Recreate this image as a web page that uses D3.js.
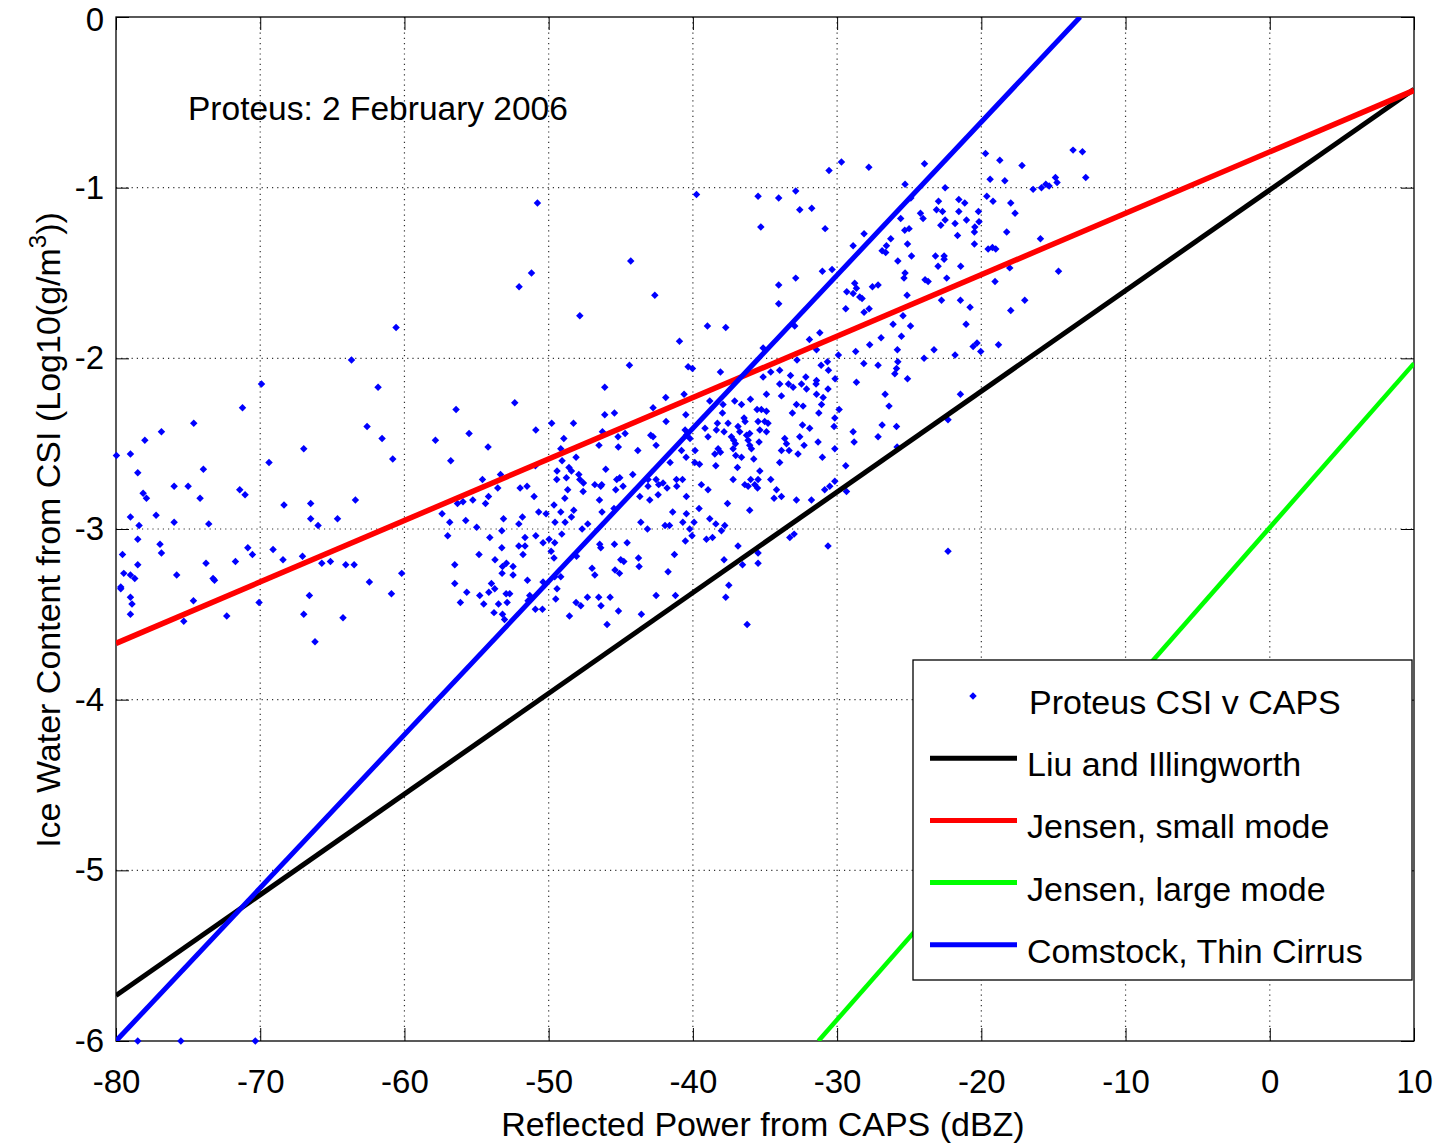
<!DOCTYPE html>
<html><head><meta charset="utf-8">
<script src="https://cdn.jsdelivr.net/npm/d3@7"></script>
<style>
body{margin:0;background:#fff;}
svg{display:block;}
text{font-family:"Liberation Sans",Arial,Helvetica,sans-serif;fill:#000;}
</style>
</head><body>
<svg id="chart" width="1439" height="1143"></svg>
<script>
// ---------------- DATA ----------------
const xTicks = [-80,-70,-60,-50,-40,-30,-20,-10,0,10];
const yTicks = [-6,-5,-4,-3,-2,-1,0];
const titleText = "Proteus: 2 February 2006";
const xLabel = "Reflected Power from CAPS (dBZ)";
const legendLabels = ["Proteus CSI v CAPS","Liu and Illingworth","Jensen, small mode","Jensen, large mode","Comstock, Thin Cirrus"];

// fitted relations (end points)
const liuZ = [-80, 10],      liuLog = [-5.733, -0.423];
const jenSmallZ = [-80, 10], jenSmallLog = [-3.67, -0.43];
const jenLargeZ = [-31.3, 10], jenLargeLog = [-6.0, -2.03];
const comstockZ = [-80, -13.15], comstockLog = [-6.0, 0.0];

// observations: reflectivity (dBZ) and log10 IWC
const obsZ = [
-69.91,-71.23,-74.61,-76.85,-78.00,-79.97,-79.00,-66.98,-69.39,-78.49,-73.94,-75.97,-75.00,-78.12,-77.89,-74.17,-71.42,-71.05,-68.35,-66.50,
-63.40,-77.22,-79.00,-75.97,-78.40,-73.57,-66.50,-65.99,-64.64,-78.49,-76.95,-76.85,-79.55,-70.86,-70.54,-69.11,-67.07,-68.42,-65.73,-65.13,
-64.07,-63.49,-78.49,-73.76,-71.72,-79.46,-79.00,-78.70,-75.79,-73.27,-73.17,-79.67,-79.67,-79.00,-78.89,-79.00,-74.63,-70.08,-66.59,-75.30,
-72.32,-66.98,-64.26,-66.20,-78.49,-75.50,-70.34,
-50.78,-51.19,-52.05,-60.58,-63.67,-61.83,-62.59,-56.42,-52.35,-55.52,-50.89,-61.55,-57.85,
-54.20,-60.81,-56.79,-54.59,-53.34,-53.53,-51.98,-51.50,-51.01,-50.92,-55.26,-54.38,-54.17,-56.32,-55.94,-57.39,-56.86,-55.75,-57.00,-54.99,
-53.13,-53.25,-51.82,-52.07,-50.69,-54.08,-51.64,-50.89,-52.07,-51.64,-53.25,-51.78,-54.83,-53.72,-52.93,-52.47,-53.20,-53.23,-56.51,-60.19,
-62.43,-52.47,-51.47,-56.51,-53.97,-53.74,-54.15,-54.78,-55.68,-60.90,-52.95,-52.70,-56.12,-54.50,-53.48,-52.88,-51.31,-51.43,-50.92,-53.79,
-53.20,-53.06,
-46.11,-41.88,-40.61,-46.11,-45.44,-42.76,-49.79,-48.28,-41.86,-40.49,-48.95,-46.27,-45.19,-44.70,-42.92,-42.76,-40.54,-40.45,-40.20,-46.51,
-45.17,-42.55,-49.16,-49.07,-48.10,-43.82,-40.79,-39.85,-40.47,-49.42,-48.59,-48.42,-46.04,-47.91,-44.17,-41.58,-39.87,-39.54,-48.77,-49.44,
-47.84,-47.59,-46.80,-46.32,-45.28,-45.07,-43.11,-42.55,-41.14,-40.72,-42.37,-42.07,-41.79,-43.11,-41.12,-47.61,-46.39,-45.35,-44.84,-48.68,
-48.88,-46.48,-43.68,-42.99,-42.41,-40.45,-49.63,-50.18,-49.16,-48.26,-46.30,-45.47,-41.40,-40.45,-39.57,-49.56,-48.86,-48.42,-47.68,-47.29,
-43.61,-43.15,-41.93,-41.62,-40.70,-39.92,-40.22,-49.97,-49.58,-49.09,-50.39,-40.06,-46.46,-45.44,-44.56,-40.52,-49.83,-49.63,-48.07,-46.39,
-41.28,-45.00,-44.79,-43.77,-43.73,-46.99,-46.80,-45.40,-45.09,-41.72,-49.58,-49.16,-50.39,-49.42,-49.51,-50.43,-48.10,-47.77,-47.31,-46.53,
-46.37,-45.74,-45.16,-43.57,-42.55,-41.21,-48.56,-45.95,
-33.98,-33.37,-33.05,-32.47,-31.46,-28.66,-34.90,-33.86,-32.12,-31.43,-30.97,-30.63,-36.01,-37.10,-36.63,-37.91,-38.83,-32.82,-32.36,-31.08,
-29.86,-35.55,-35.25,-34.90,-37.95,-33.10,-31.27,-30.16,-38.30,-37.56,-36.45,-36.38,-35.48,-35.02,-34.79,-39.16,-38.37,-37.84,-36.87,-36.75,
-36.06,-35.36,-34.90,-32.40,-31.90,-30.21,-28.89,-27.16,-38.95,-37.33,-37.17,-36.28,-36.17,-33.63,-32.59,-31.32,-35.41,-28.82,-37.05,-36.06,
-33.51,-32.29,-38.25,-38.09,-37.21,-35.94,-33.86,-33.33,-32.71,-30.16,-38.48,-37.03,-36.63,-35.78,-33.98,-31.02,-29.40,-38.41,-36.91,-35.36,
-35.48,-35.99,-34.60,-37.21,-36.40,-36.17,-35.71,-35.52,-34.20,-39.41,-38.95,-34.37,-33.86,-32.82,-31.78,-30.86,-30.51,-30.16,-29.35,-37.60,
-36.06,-38.83,-38.41,-37.79,-38.02,-39.06,-38.64,-33.28,-32.98,-30.63,-36.87,-37.84,-36.56,-35.48,-35.48,-37.51,-37.72,-36.24,
-29.70,-30.56,-39.75,-35.48,-34.05,-32.87,-32.59,-31.76,-35.29,-30.83,-44.31,-42.64,-34.05,-32.87,-34.05,-31.02,-30.35,-29.33,-29.40,-38.99,
-37.72,-40.93,-32.94,-35.13,-31.20,-31.92,-31.43,-29.91,-44.40,-40.33,-40.03,-38.09,-35.13,-34.60,-33.98,-32.78,-33.23,-32.17,-31.43,-31.11,
-30.67,-30.60,-30.14,-47.84,
-27.80,-23.94,-19.71,-18.72,-17.18,-13.64,-12.99,-12.76,-25.29,-22.51,-19.39,-18.37,-16.41,-15.83,-15.53,-15.30,-14.86,-14.75,-24.89,-22.97,
-21.56,-21.15,-19.62,-19.19,-17.96,-17.66,-24.22,-24.04,-23.11,-22.69,-21.56,-20.20,-25.59,-22.51,-22.81,-21.82,-21.03,-20.45,-20.16,-25.31,
-25.01,-20.48,-18.24,-28.13,-26.28,-21.65,-15.90,-28.89,-26.58,-25.12,-20.48,-19.53,-19.23,-19.00,-26.88,-26.63,-23.18,-22.58,-22.58,-24.84,
-25.79,-23.00,-21.43,-18.03,-25.29,-25.36,-22.40,-14.65,-23.90,-23.69,-19.05,-28.78,-28.89,-28.66,-27.55,-27.16,-28.43,-28.27,-25.15,-28.13,
-27.78,-25.43,-22.76,-21.45,-20.78,-17.96,-16.99,-26.12,-24.91,-21.06,-26.95,-25.54,-27.74,-28.71,-25.82,-23.28,-20.57,-20.30,-20.04,-18.81,
-21.82,-23.97,-28.15,-27.16,-25.79,-25.88,
-26.00,-25.12,-26.67,-26.40,-21.45,-26.88,-25.88,-25.84,-22.31,-22.31
];
const obsLog = [
-2.15,-2.29,-2.38,-2.43,-2.48,-2.57,-2.56,-2.53,-2.61,-2.67,-2.65,-2.75,-2.75,-2.79,-2.82,-2.82,-2.77,-2.80,-2.86,-2.85,
-2.83,-2.92,-2.93,-2.96,-2.98,-2.97,-2.94,-2.98,-2.94,-3.06,-3.09,-3.14,-3.15,-3.11,-3.15,-3.12,-3.16,-3.18,-3.20,-3.19,
-3.21,-3.21,-3.21,-3.20,-3.19,-3.26,-3.27,-3.29,-3.27,-3.29,-3.30,-3.34,-3.35,-3.40,-3.44,-3.50,-3.42,-3.43,-3.39,-3.54,
-3.51,-3.50,-3.52,-3.66,-6.00,-6.00,-6.00,
-1.09,-1.50,-1.58,-1.82,-2.01,-2.17,-2.40,-2.30,-2.26,-2.44,-2.42,-2.47,-2.48,
-2.52,-2.59,-2.60,-2.71,-2.68,-2.76,-2.76,-2.75,-2.81,-2.63,-2.83,-2.85,-2.81,-2.85,-2.84,-2.91,-2.96,-2.95,-3.04,-2.99,
-2.94,-3.01,-2.93,-2.97,-2.90,-3.05,-3.05,-3.04,-3.10,-3.10,-3.11,-3.15,-3.15,-3.18,-3.20,-3.22,-3.22,-3.26,-3.21,-3.26,
-3.31,-3.27,-3.30,-3.32,-3.32,-3.35,-3.37,-3.39,-3.37,-3.38,-3.38,-3.38,-3.43,-3.44,-3.44,-3.43,-3.39,-3.42,-3.47,-3.49,
-3.50,-3.53,
-2.17,-2.23,-2.21,-2.33,-2.32,-2.29,-2.38,-2.38,-2.37,-2.33,-2.47,-2.43,-2.46,-2.44,-2.45,-2.46,-2.42,-2.45,-2.47,-2.51,
-2.52,-2.51,-2.53,-2.60,-2.58,-2.54,-2.54,-2.54,-2.58,-2.66,-2.64,-2.66,-2.65,-2.68,-2.68,-2.61,-2.61,-2.62,-2.70,-2.71,
-2.71,-2.73,-2.74,-2.74,-2.71,-2.70,-2.71,-2.71,-2.71,-2.71,-2.74,-2.73,-2.76,-2.75,-2.75,-2.78,-2.75,-2.77,-2.75,-2.77,
-2.82,-2.83,-2.81,-2.83,-2.80,-2.81,-2.86,-2.91,-2.90,-2.89,-2.90,-2.88,-2.90,-2.91,-2.88,-2.96,-2.96,-2.93,-3.00,-2.97,
-2.96,-3.00,-2.98,-2.98,-2.96,-2.96,-3.00,-3.06,-3.08,-3.03,-3.08,-3.04,-3.09,-3.09,-3.08,-3.07,-3.13,-3.17,-3.16,-3.11,
-3.15,-3.18,-3.19,-3.17,-3.22,-3.23,-3.27,-3.24,-3.26,-3.25,-3.28,-3.28,-3.31,-3.35,-3.41,-3.47,-3.43,-3.45,-3.40,-3.40,
-3.45,-3.40,-3.48,-3.50,-3.39,-3.39,-3.51,-3.56,
-2.15,-2.15,-2.17,-2.15,-2.15,-2.14,-2.21,-2.22,-2.18,-2.21,-2.23,-2.18,-2.24,-2.25,-2.27,-2.27,-2.25,-2.27,-2.28,-2.27,
-2.30,-2.30,-2.30,-2.31,-2.32,-2.32,-2.32,-2.35,-2.38,-2.38,-2.35,-2.37,-2.37,-2.37,-2.38,-2.41,-2.42,-2.43,-2.40,-2.43,
-2.44,-2.42,-2.43,-2.39,-2.41,-2.40,-2.43,-2.46,-2.46,-2.46,-2.48,-2.45,-2.48,-2.47,-2.46,-2.49,-2.49,-2.49,-2.50,-2.51,
-2.50,-2.51,-2.53,-2.55,-2.53,-2.53,-2.54,-2.54,-2.56,-2.53,-2.56,-2.57,-2.58,-2.59,-2.61,-2.58,-2.63,-2.63,-2.64,-2.66,
-2.71,-2.71,-2.71,-2.71,-2.74,-2.75,-2.74,-2.76,-2.77,-2.74,-2.77,-2.82,-2.81,-2.83,-2.83,-2.77,-2.75,-2.72,-2.78,-2.85,
-2.89,-2.94,-2.97,-2.98,-3.01,-3.06,-3.05,-3.05,-3.03,-3.10,-3.10,-3.18,-3.21,-3.14,-3.20,-3.33,-3.40,-3.56,
-0.85,-0.90,-1.04,-1.05,-1.06,-1.02,-1.13,-1.12,-1.23,-1.24,-1.43,-1.63,-1.57,-1.53,-1.68,-1.49,-1.48,-1.61,-1.71,-1.81,
-1.82,-1.90,-1.81,-1.94,-1.85,-1.89,-1.95,-1.98,-2.04,-2.05,-2.06,-2.08,-2.11,-2.08,-2.07,-2.01,-2.10,-2.11,-2.13,-2.04,
-2.02,-2.07,-2.12,-1.75,
-0.88,-0.86,-0.80,-0.84,-0.87,-0.78,-0.79,-0.94,-0.98,-1.00,-0.95,-0.96,-1.01,-1.00,-0.98,-0.99,-0.94,-0.97,-1.06,-1.08,
-1.07,-1.09,-1.05,-1.08,-1.09,-1.15,-1.15,-1.18,-1.13,-1.14,-1.14,-1.14,-1.18,-1.19,-1.22,-1.21,-1.19,-1.23,-1.20,-1.25,
-1.24,-1.26,-1.26,-1.27,-1.30,-1.28,-1.30,-1.34,-1.34,-1.33,-1.33,-1.36,-1.35,-1.36,-1.37,-1.38,-1.40,-1.40,-1.42,-1.40,
-1.43,-1.46,-1.46,-1.47,-1.50,-1.53,-1.53,-1.49,-1.54,-1.55,-1.55,-1.56,-1.62,-1.59,-1.58,-1.57,-1.64,-1.65,-1.63,-1.73,
-1.71,-1.75,-1.66,-1.66,-1.70,-1.72,-1.66,-1.80,-1.81,-1.80,-1.88,-1.87,-1.92,-1.96,-1.95,-1.95,-1.93,-1.91,-1.96,-1.92,
-1.98,-2.00,-2.03,-2.04,-2.02,-2.06,
-2.09,-2.12,-2.21,-2.28,-2.21,-2.39,-2.40,-2.52,-2.36,-3.13
];

// ---------------- LAYOUT ----------------
const svg = d3.select("#chart");
const plot = {l:116, r:1414, t:17, b:1041};
const FS = 33;
const x = d3.scaleLinear().domain([-80,10]).range([plot.l, plot.r]);
const y = d3.scaleLinear().domain([-6,0]).range([plot.b, plot.t]);

svg.append("rect").attr("width",1439).attr("height",1143).attr("fill","#fff");

svg.append("defs").append("clipPath").attr("id","clip")
  .append("rect").attr("x",plot.l).attr("y",plot.t)
  .attr("width",plot.r-plot.l).attr("height",plot.b-plot.t);

// grid
const grid = svg.append("g").attr("stroke","#333").attr("stroke-width",1.2)
  .attr("stroke-dasharray","1.2,4");
grid.selectAll(".gx").data(xTicks.filter(d=>d>-80 && d<10)).enter().append("line")
  .attr("x1",d=>x(d)).attr("x2",d=>x(d)).attr("y1",plot.t).attr("y2",plot.b);
grid.selectAll(".gy").data(yTicks.filter(d=>d>-6 && d<0)).enter().append("line")
  .attr("y1",d=>y(d)).attr("y2",d=>y(d)).attr("x1",plot.l).attr("x2",plot.r);

// axes (inward ticks)
const TL = 13;
const fmt = d => String(d);   // plain hyphen-minus as in the reference
const gB = svg.append("g").attr("transform",`translate(0,${plot.b})`)
  .call(d3.axisBottom(x).tickValues(xTicks).tickFormat(fmt).tickSizeInner(-TL).tickSizeOuter(0).tickPadding(29));
const gT = svg.append("g").attr("transform",`translate(0,${plot.t})`)
  .call(d3.axisTop(x).tickValues(xTicks).tickFormat("").tickSizeInner(-TL).tickSizeOuter(0));
const gL = svg.append("g").attr("transform",`translate(${plot.l},0)`)
  .call(d3.axisLeft(y).tickValues(yTicks).tickFormat(fmt).tickSizeInner(-TL).tickSizeOuter(0).tickPadding(12));
const gR = svg.append("g").attr("transform",`translate(${plot.r},0)`)
  .call(d3.axisRight(y).tickValues(yTicks).tickFormat("").tickSizeInner(-TL).tickSizeOuter(0));
[gB,gT,gL,gR].forEach(g=>{
  g.select(".domain").remove();
  g.selectAll(".tick line").attr("stroke","#000").attr("stroke-width",1);
  g.selectAll("text").attr("font-size",FS).attr("font-family","'Liberation Sans',Arial,sans-serif").attr("fill","#000");
});
gB.selectAll(".tick text").attr("dy","0.71em");
gL.selectAll(".tick text").filter(d=>d===0).attr("dy","0.42em");

// box
svg.append("rect").attr("x",plot.l).attr("y",plot.t)
  .attr("width",plot.r-plot.l).attr("height",plot.b-plot.t)
  .attr("fill","none").attr("stroke","#000").attr("stroke-width",1.3);

// scatter
const obs = obsZ.map((z,i)=>({z, v:obsLog[i]}));
const marker = d3.symbol().type(d3.symbolSquare).size(28);
svg.append("g").selectAll("path").data(obs).enter().append("path")
  .attr("d",marker)
  .attr("transform",d=>`translate(${x(d.z)},${y(d.v)}) rotate(45)`)
  .attr("fill","#0000ff");

// fitted lines
const lines = [
  {z:liuZ, v:liuLog, c:"#000000", w:5},
  {z:jenSmallZ, v:jenSmallLog, c:"#ff0000", w:5.5},
  {z:jenLargeZ, v:jenLargeLog, c:"#00ff00", w:4.5},
  {z:comstockZ, v:comstockLog, c:"#0000ff", w:5}
];
const lineGen = d3.line().x(d=>x(d[0])).y(d=>y(d[1]));
svg.append("g").attr("clip-path","url(#clip)").selectAll("path").data(lines).enter().append("path")
  .attr("d",d=>lineGen(d.z.map((zz,i)=>[zz,d.v[i]])))
  .attr("fill","none").attr("stroke",d=>d.c).attr("stroke-width",d=>d.w);

// title annotation
svg.append("text").attr("x",188).attr("y",120).attr("font-size",FS+0.5).text(titleText);

// axis labels
svg.append("text").attr("x",763).attr("y",1136).attr("text-anchor","middle")
  .attr("font-size",FS+1).text(xLabel);
const yl = svg.append("text").attr("transform","translate(60,530) rotate(-90)")
  .attr("text-anchor","middle").attr("font-size",FS+1);
yl.append("tspan").text("Ice Water Content from CSI (Log10(g/m");
yl.append("tspan").attr("font-size",24).attr("dy",-14).text("3");
yl.append("tspan").attr("dy",14).text("))");

// legend
const lg = svg.append("g");
lg.append("rect").attr("x",913).attr("y",660).attr("width",499).attr("height",320)
  .attr("fill","#fff").attr("stroke","#000").attr("stroke-width",1.3);
const legendColors = ["#0000ff","#000000","#ff0000","#00ff00","#0000ff"];
legendLabels.forEach((lab,i)=>{
  const cy = 702 + i*62.2;
  if(i===0){
    lg.append("path").attr("d",marker).attr("transform",`translate(973,${cy-6}) rotate(45)`).attr("fill","#0000ff");
  } else {
    lg.append("line").attr("x1",930).attr("x2",1017).attr("y1",cy-6).attr("y2",cy-6)
      .attr("stroke",legendColors[i]).attr("stroke-width",5);
  }
  lg.append("text").attr("x",i===0?1029:1027).attr("y",cy+12).attr("font-size",FS+1).text(lab);
});
</script>
</body></html>
